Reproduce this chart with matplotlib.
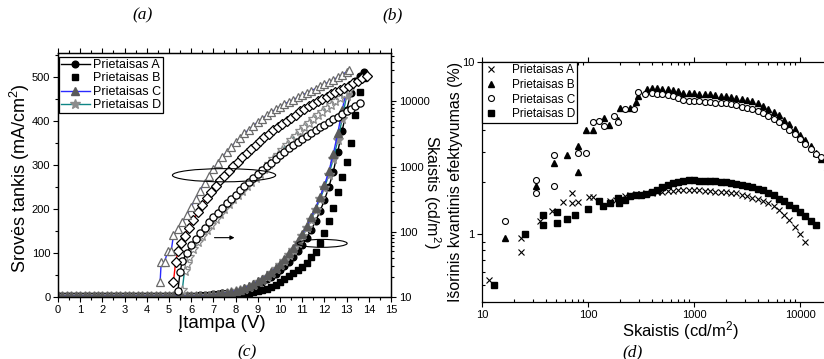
import matplotlib
matplotlib.use("Agg")
import matplotlib.pyplot as plt
from matplotlib.patches import Ellipse
from matplotlib.ticker import MultipleLocator, LogLocator, FuncFormatter, NullFormatter

plt.rcParams['font.family'] = ['Liberation Sans', 'DejaVu Sans']
plt.rcParams['mathtext.fontset'] = 'custom'
plt.rcParams['mathtext.rm'] = 'Liberation Sans'
plt.rcParams['mathtext.it'] = 'Liberation Sans:italic'
plt.rcParams['axes.linewidth'] = 0.9

# ---------------- (c) current density and luminance vs voltage ----------------
devices = ['Prietaisas A', 'Prietaisas B', 'Prietaisas C', 'Prietaisas D']

# voltage sweep for current density (V)
V_J_AB = [0.0, 0.2, 0.4, 0.6, 0.8, 1.0, 1.2, 1.4, 1.6, 1.8, 2.0, 2.2, 2.4, 2.6, 2.8,
          3.0, 3.2, 3.4, 3.6, 3.8, 4.0, 4.2, 4.4, 4.6, 4.8, 5.0, 5.2, 5.4, 5.6, 5.8,
          6.0, 6.2, 6.4, 6.6, 6.8, 7.0, 7.2, 7.4, 7.6, 7.8, 8.0, 8.2, 8.4, 8.6, 8.8,
          9.0, 9.2, 9.4, 9.6, 9.8, 10.0, 10.2, 10.4, 10.6, 10.8, 11.0, 11.2, 11.4, 11.6, 11.8,
          12.0, 12.2, 12.4, 12.6, 12.8, 13.0, 13.2, 13.4, 13.6, 13.8]
V_J_CD = [0.0, 0.2, 0.4, 0.6, 0.8, 1.0, 1.2, 1.4, 1.6, 1.8, 2.0, 2.2, 2.4, 2.6, 2.8,
          3.0, 3.2, 3.4, 3.6, 3.8, 4.0, 4.2, 4.4, 4.6, 4.8, 5.0, 5.2, 5.4, 5.6, 5.8,
          6.0, 6.2, 6.4, 6.6, 6.8, 7.0, 7.2, 7.4, 7.6, 7.8, 8.0, 8.2, 8.4, 8.6, 8.8,
          9.0, 9.2, 9.4, 9.6, 9.8, 10.0, 10.2, 10.4, 10.6, 10.8, 11.0, 11.2, 11.4, 11.6, 11.8,
          12.0, 12.2, 12.4, 12.6, 12.8, 13.0]

# current density (mA/cm2)
J_A = [3, 3, 3, 3, 3, 3, 3, 3, 3, 3, 3, 3, 3, 3, 3,
       3, 3, 3, 3, 3, 3, 3, 3, 3, 3, 3, 3, 3, 3, 3,
       3, 3, 4, 4, 5, 6, 7, 8, 9, 10, 12, 14, 17, 20, 24,
       29, 34, 40, 46, 53, 61, 70, 80, 91, 104, 118, 134, 152, 172, 195,
       220, 250, 285, 330, 378, 425, 465, 492, 503, 511]
J_B = [3, 3, 3, 3, 3, 3, 3, 3, 3, 3, 3, 3, 3, 3, 3,
       3, 3, 3, 3, 3, 3, 3, 3, 3, 3, 3, 3, 3, 3, 3,
       3, 3, 3, 3, 3, 3, 3, 3, 3, 4, 5, 6, 8, 9, 11,
       13, 16, 19, 23, 28, 34, 40, 47, 54, 61, 68, 78, 90, 103, 122,
       145, 172, 202, 238, 274, 306, 350, 415, 467, 497]
J_C = [3, 3, 3, 3, 3, 3, 3, 3, 3, 3, 3, 3, 3, 3, 3,
       3, 3, 3, 3, 3, 3, 3, 3, 3, 3, 3, 3, 3, 3, 3,
       3, 3, 3, 3, 3, 5, 6, 8, 10, 12, 14, 17, 21, 25, 30,
       36, 42, 49, 57, 66, 76, 87, 99, 112, 127, 143, 161, 181, 203, 227,
       254, 286, 325, 372, 425, 472]
J_D = [3, 3, 3, 3, 3, 3, 3, 3, 3, 3, 3, 3, 3, 3, 3,
       3, 3, 3, 3, 3, 3, 3, 3, 3, 3, 3, 3, 3, 3, 3,
       3, 3, 3, 3, 3, 4, 5, 7, 9, 11, 13, 16, 19, 23, 28,
       33, 39, 46, 54, 63, 72, 83, 95, 108, 122, 138, 156, 176, 198, 222,
       248, 278, 314, 356, 405, 458]

# luminance (cd/m2)
V_L_A = [5.2, 5.3, 5.4, 5.55, 5.7, 5.9, 6.1, 6.3, 6.5, 6.7, 6.9, 7.1, 7.3, 7.5, 7.7,
         7.9, 8.1, 8.3, 8.5, 8.7, 8.9, 9.1, 9.3, 9.5, 9.7, 9.9, 10.1, 10.3, 10.5, 10.7,
         10.9, 11.1, 11.3, 11.5, 11.7, 11.9, 12.1, 12.3, 12.5, 12.7, 12.9, 13.1, 13.3, 13.5,
         13.7, 13.9]
L_A = [17.2, 34.6, 50.2, 67.5, 86.4, 116, 153, 200, 260, 328, 414, 507, 611, 724, 859,
       1019, 1190, 1390, 1623, 1867, 2146, 2468, 2795, 3163, 3582, 3993, 4521, 5039, 5617, 6262,
       6981, 7662, 8410, 9231, 10130, 10950, 11830, 12790, 13820, 14940, 16140, 17440, 18850, 20690,
       22360, 24540]
V_L_B = [5.4, 5.5, 5.6, 5.8, 6.0, 6.2, 6.4, 6.6, 6.8, 7.0, 7.2, 7.4, 7.6, 7.8, 8.0,
         8.2, 8.4, 8.6, 8.8, 9.0, 9.2, 9.4, 9.6, 9.8, 10.0, 10.2, 10.4, 10.6, 10.8, 11.0,
         11.2, 11.4, 11.6, 11.8, 12.0, 12.2, 12.4, 12.6, 12.8, 13.0, 13.2, 13.4, 13.6]
L_B = [12.4, 24.2, 35.7, 47.2, 62.4, 78.8, 96.4, 116, 140, 166, 197, 233, 273, 318, 372,
       434, 499, 574, 660, 759, 873, 1003, 1136, 1306, 1479, 1674, 1896, 2146, 2393, 2667,
       2973, 3314, 3638, 3993, 4383, 4810, 5280, 5794, 6360, 6981, 7662, 8410, 9521]
V_L_C = [4.6, 4.65, 4.8, 4.95, 5.1, 5.2, 5.4, 5.6, 5.8, 6.0, 6.2, 6.4, 6.6, 6.8, 7.0,
         7.2, 7.4, 7.6, 7.8, 8.0, 8.2, 8.4, 8.6, 8.8, 9.0, 9.2, 9.4, 9.6, 9.8, 10.0,
         10.2, 10.4, 10.6, 10.8, 11.0, 11.2, 11.4, 11.6, 11.8, 12.0, 12.2, 12.4, 12.6, 12.8,
         13.0, 13.1]
L_C = [17.2, 34.6, 34.6, 51.0, 51.0, 87.8, 111, 140, 179, 241, 323, 428, 565, 724, 914,
       1136, 1390, 1674, 1986, 2356, 2751, 3213, 3695, 4249, 4810, 5445, 6071, 6768, 7545, 8279,
       9087, 9820, 10610, 11470, 12390, 13390, 14470, 15640, 16900, 18270, 19740, 21340, 23420, 25700,
       28200, 30480]
V_L_D = [5.6, 5.7, 5.8, 5.9, 6.1, 6.3, 6.5, 6.7, 6.9, 7.1, 7.3, 7.5, 7.7, 7.9, 8.1,
         8.3, 8.5, 8.7, 8.9, 9.1, 9.3, 9.5, 9.7, 9.9, 10.1, 10.3, 10.5, 10.7, 10.9, 11.1,
         11.3, 11.5, 11.7, 11.9, 12.1, 12.3, 12.5, 12.7, 12.9, 13.1]
L_D = [13.0, 25.4, 32.5, 41.7, 55.1, 69.6, 86.4, 106, 129, 156, 188, 223, 264, 313, 366,
       428, 499, 583, 670, 771, 914, 1084, 1286, 1525, 1810, 2146, 2546, 2973, 3472, 3993,
       4590, 5280, 6071, 6873, 7783, 8810, 9975, 11290, 12790, 14700]

# ---------------- (d) external quantum efficiency vs luminance ----------------
EQE_X_A = [11.6, 23.4, 23.4, 35, 46, 58, 70, 70, 80.5, 103, 112, 162, 185, 205,
           224, 251, 282, 316, 355, 398, 447, 501, 562, 631, 708, 794, 891, 1000, 1120,
           1260, 1410, 1580, 1780, 2000, 2240, 2510, 2820, 3160, 3550, 3980, 4470, 5010,
           5620, 6310, 7080, 7940, 8910, 10000, 11200]
EQE_Y_A = [0.54, 0.94, 0.78, 1.18, 1.36, 1.53, 1.73, 1.50, 1.53, 1.63, 1.63, 1.56, 1.58, 1.60,
           1.65, 1.68, 1.70, 1.71, 1.72, 1.73, 1.75, 1.76, 1.77, 1.78, 1.79, 1.80, 1.80, 1.80, 1.79,
           1.78, 1.77, 1.76, 1.75, 1.74, 1.73, 1.72, 1.69, 1.66, 1.62, 1.59, 1.55, 1.50,
           1.44, 1.37, 1.29, 1.20, 1.10, 0.99, 0.90]
EQE_X_B = [16.4, 32, 48, 64, 80, 80, 96, 112, 143, 158, 192, 202, 251, 286, 294, 360,
           398, 447, 501, 562, 631, 708, 794, 891, 1000, 1120, 1260, 1410, 1580, 1780,
           2000, 2240, 2510, 2820, 3160, 3550, 3980, 4470, 5010, 5620, 6310, 7080, 7940,
           8910, 10000, 11200, 12600, 14100, 15800, 17800, 20000]
EQE_Y_B = [0.95, 1.89, 2.58, 2.88, 3.25, 2.28, 4.02, 4.02, 4.74, 4.30, 4.60, 5.37, 5.37, 5.81, 6.36, 6.95,
           7.10, 7.05, 7.00, 6.92, 6.85, 6.75, 6.64, 6.60, 6.57, 6.55, 6.52, 6.48, 6.42, 6.38,
           6.33, 6.27, 6.20, 6.12, 6.02, 5.90, 5.75, 5.55, 5.35, 5.12, 4.88, 4.60, 4.35,
           4.05, 3.78, 3.50, 3.22, 2.95, 2.72, 2.45, 2.20]
EQE_X_C = [16.4, 32, 32, 48, 48, 80, 96, 112, 128, 143, 175, 190, 225, 270, 294, 347,
           398, 447, 501, 562, 631, 708, 794, 891, 1000, 1120, 1260, 1410, 1580, 1780,
           2000, 2240, 2510, 2820, 3160, 3550, 3980, 4470, 5010, 5620, 6310, 7080, 7940,
           8910, 10000, 11200, 12600, 14100, 15800, 17800, 20000]
EQE_Y_C = [1.18, 2.05, 1.73, 2.88, 1.89, 2.94, 2.94, 4.49, 4.55, 4.24, 4.85, 4.49, 5.30, 5.30, 6.70, 6.55,
           6.60, 6.55, 6.50, 6.42, 6.30, 6.15, 6.00, 5.95, 5.92, 5.90, 5.87, 5.84, 5.80, 5.77,
           5.74, 5.68, 5.60, 5.50, 5.40, 5.30, 5.17, 5.02, 4.86, 4.66, 4.45, 4.25, 4.03,
           3.80, 3.58, 3.35, 3.13, 2.92, 2.80, 2.58, 2.38]
EQE_X_D = [12.9, 25.6, 38, 38, 51, 51, 63, 76, 101, 126, 138, 162, 190, 196, 225,
           251, 282, 316, 355, 398, 447, 501, 562, 631, 708, 794, 891, 1000, 1120, 1260,
           1410, 1580, 1780, 2000, 2240, 2510, 2820, 3160, 3550, 3980, 4470, 5010, 5620,
           6310, 7080, 7940, 8910, 10000, 11200, 12600, 14100]
EQE_Y_D = [0.50, 0.99, 1.28, 1.12, 1.33, 1.16, 1.21, 1.28, 1.40, 1.55, 1.45, 1.51, 1.62, 1.50, 1.58,
           1.65, 1.67, 1.69, 1.71, 1.76, 1.80, 1.86, 1.93, 1.97, 2.00, 2.03, 2.05, 2.05, 2.04, 2.03,
           2.03, 2.02, 2.01, 1.99, 1.97, 1.95, 1.92, 1.89, 1.86, 1.83, 1.79, 1.73, 1.67,
           1.60, 1.54, 1.47, 1.41, 1.34, 1.26, 1.18, 1.12]

W, H = 824, 359
fig = plt.figure(figsize=(W / 100, H / 100), dpi=100)

# ---- panel (c) ----
ax1 = fig.add_axes([58 / W, (H - 297) / H, 333 / W, 244 / H])
ax1b = ax1.twinx()
ax1.set_xlim(0, 15)
ax1.set_ylim(0, 555)
ax1b.set_yscale('log')
ax1b.set_ylim(10, 5.5e4)

DARK = '#5a5a5a'
LIGHT = '#8c8c8c'

hB, = ax1.plot(V_J_AB, J_B, ls='none', marker='s', ms=4.6, color='black', label=devices[1])
hA, = ax1.plot(V_J_AB, J_A, '-', lw=1, color='black', marker='o', ms=4.8,
               mfc='black', mec='black', label=devices[0])
hD, = ax1.plot(V_J_CD, J_D, '-', lw=1, color='#0e8585', marker='*', ms=7,
               mfc=LIGHT, mec=LIGHT, label=devices[3])
hC, = ax1.plot(V_J_CD, J_C, '-', lw=1, color='#2a2aff', marker='^', ms=5.4,
               mfc=DARK, mec=DARK, label=devices[2])

ax1b.plot(V_L_D, L_D, '-', lw=1, color='#0e8585', marker='*', ms=7.2,
          mfc='white', mec=LIGHT, mew=0.9)
ax1b.plot(V_L_B, L_B, '-', lw=1, color='black', marker='o', ms=5.2,
          mfc='white', mec='black', mew=0.9)
ax1b.plot(V_L_A, L_A, '-', lw=1, color='red', marker='D', ms=4.9,
          mfc='white', mec='black', mew=0.9)
ax1b.plot(V_L_C, L_C, '-', lw=1, color='#2a2aff', marker='^', ms=6.2,
          mfc='white', mec='#6a6a6a', mew=0.9)

# grouping ellipses and pointer arrow
for (cx, cy, w, h) in [(7.48, 277, 4.65, 30), (11.9, 122, 2.25, 18)]:
    e = Ellipse((cx, cy), w, h, fill=False, lw=0.8, ec='black',
                transform=ax1.transData, zorder=10)
    ax1b.add_patch(e)
ax1b.annotate('', xy=(7.95, 135), xytext=(7.05, 135),
              xycoords=ax1.transData, textcoords=ax1.transData,
              arrowprops=dict(arrowstyle='-|>', lw=0.8, color='black',
                              mutation_scale=6, shrinkA=0, shrinkB=0), zorder=10)

ax1.xaxis.set_major_locator(MultipleLocator(1))
ax1.xaxis.set_minor_locator(MultipleLocator(0.5))
ax1.yaxis.set_major_locator(MultipleLocator(100))
ax1.yaxis.set_minor_locator(MultipleLocator(50))
ax1.tick_params(which='both', direction='out', top=True, labelsize=8, width=0.8)
ax1.tick_params(which='major', length=3.5, pad=2)
ax1.tick_params(which='minor', length=2)
ax1b.yaxis.set_major_locator(LogLocator(base=10, numticks=10))
ax1b.yaxis.set_minor_locator(LogLocator(base=10, subs=range(2, 10), numticks=10))
ax1b.yaxis.set_major_formatter(FuncFormatter(lambda v, p: f'{v:.0f}'))
ax1b.yaxis.set_minor_formatter(NullFormatter())
ax1b.tick_params(which='both', direction='out', labelsize=8, width=0.8)
ax1b.tick_params(which='major', length=3.5, pad=2)
ax1b.tick_params(which='minor', length=2)

ax1.set_xlabel('Įtampa (V)', fontsize=13.5)
ax1.xaxis.set_label_coords((222 - 58) / 333, (297 - 324) / 244)
ax1.set_ylabel('Srovės tankis (mA/cm$^2$)', fontsize=13)
ax1.yaxis.set_label_coords((20 - 58) / 333, (297 - 178) / 244)
ax1b.set_ylabel('Skaistis (cd/m$^2$)', fontsize=11.6, rotation=270)
ax1b.yaxis.set_label_coords((432 - 58) / 333, (297 - 192) / 244)
for lab in (ax1.xaxis.label, ax1.yaxis.label, ax1b.yaxis.label):
    lab.set_ha('center')
    lab.set_va('center')

leg1 = ax1b.legend(handles=[hA, hB, hC, hD], labels=devices, loc='upper left',
                   bbox_to_anchor=(1 / 333, 1 - 4 / 244), borderaxespad=0,
                   fontsize=9, frameon=True, fancybox=False, framealpha=1,
                   edgecolor='black', handlelength=2.3, handletextpad=0.3,
                   labelspacing=0.12, borderpad=0.15)
leg1.get_frame().set_linewidth(0.9)
leg1.set_zorder(20)

# ---- panel (d) ----
ax2 = fig.add_axes([482 / W, (H - 302) / H, 350 / W, 240 / H])
ax2.set_xscale('log')
ax2.set_yscale('log')
ax2.set_xlim(10, 2e4)
ax2.set_ylim(0.4, 10)

ax2.plot(EQE_X_A, EQE_Y_A, ls='none', marker='x', ms=4.0, mew=0.8, color='black', label=devices[0])
ax2.plot(EQE_X_B, EQE_Y_B, ls='none', marker='^', ms=4.6, color='black', label=devices[1])
ax2.plot(EQE_X_C, EQE_Y_C, ls='none', marker='o', ms=4.3, mfc='white', mec='black',
         mew=0.8, label=devices[2])
ax2.plot(EQE_X_D, EQE_Y_D, ls='none', marker='s', ms=4.1, color='black', label=devices[3])

fmt = FuncFormatter(lambda v, p: f'{v:g}')
ax2.xaxis.set_major_locator(LogLocator(base=10, numticks=10))
ax2.xaxis.set_minor_locator(LogLocator(base=10, subs=range(2, 10), numticks=10))
ax2.xaxis.set_major_formatter(fmt)
ax2.xaxis.set_minor_formatter(NullFormatter())
ax2.yaxis.set_major_locator(LogLocator(base=10, numticks=10))
ax2.yaxis.set_minor_locator(LogLocator(base=10, subs=range(2, 10), numticks=10))
ax2.yaxis.set_major_formatter(fmt)
ax2.yaxis.set_minor_formatter(NullFormatter())
ax2.tick_params(which='major', direction='out', length=3.5, width=0.8, labelsize=8, pad=2)
ax2.tick_params(which='minor', direction='in', length=2, width=0.8, top=True, right=True)
ax2.tick_params(which='major', top=True, right=True)

ax2.set_xlabel('Skaistis (cd/m$^2$)', fontsize=12)
ax2.xaxis.set_label_coords((681 - 482) / 350, (302 - 331) / 240)
ax2.set_ylabel('Išorinis kvantinis efektyvumas (%)', fontsize=11.4)
ax2.yaxis.set_label_coords((456 - 482) / 350, (302 - 182) / 240)
for lab in (ax2.xaxis.label, ax2.yaxis.label):
    lab.set_ha('center')
    lab.set_va('center')

leg2 = ax2.legend(loc='upper left', bbox_to_anchor=(0, 1), borderaxespad=0,
                  fontsize=8.5, frameon=True, fancybox=False, framealpha=1,
                  edgecolor='black', handlelength=1.2, handletextpad=1.1,
                  labelspacing=0.22, borderpad=0.2)
leg2.get_frame().set_linewidth(0.9)

# ---- panel captions ----
cap = dict(family=['Liberation Serif', 'DejaVu Serif'], style='italic', fontsize=12.5,
           ha='center', va='center')
fig.text(143 / W, 1 - 15 / H, '(a)', **cap)
fig.text(393 / W, 1 - 15 / H, '(b)', **cap)
fig.text(247 / W, 1 - 352 / H, '(c)', **cap)
fig.text(633 / W, 1 - 352 / H, '(d)', **cap)

fig.savefig('out.png', dpi=100)
